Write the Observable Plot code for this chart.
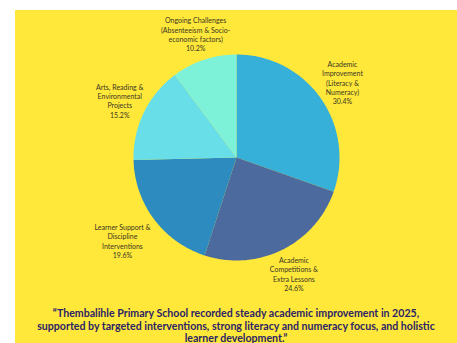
<!DOCTYPE html>
<html>
<head>
<meta charset="utf-8">
<script src="https://cdn.jsdelivr.net/npm/d3@7"></script>
<script src="https://cdn.jsdelivr.net/npm/@observablehq/plot@0.6"></script>
<style>
  html, body { margin: 0; padding: 0; background: #ffffff; width: 457px; height: 343px; overflow: hidden; }
  #card {
    position: absolute; left: 15px; top: 10px; width: 442px; height: 333px;
    background: #ffe83a; overflow: hidden;
  }
  #chart svg { display: block; }
  #caption {
    margin: 0; text-align: center; font-family: Lato, "Open Sans", sans-serif;
    font-weight: 700; font-size: 10.6px; line-height: 12.5px; color: #2c2466;
    white-space: nowrap;
  }
</style>
</head>
<body>
<div id="card">
  <div id="chart"></div>
  <p id="caption"></p>
</div>
<script>
// Programme focus areas, clockwise from 12 o'clock
const categories = [
  "Academic\nImprovement\n(Literacy &\nNumeracy)",
  "Academic\nCompetitions &\nExtra Lessons",
  "Learner Support &\nDiscipline\nInterventions",
  "Arts, Reading &\nEnvironmental\nProjects",
  "Ongoing Challenges\n(Absenteeism & Socio-\neconomic factors)"
];
const shares = [30.4, 24.6, 19.6, 15.2, 10.2];
const sliceColors = ["#36b0d8", "#4c6a9e", "#2d8bc0", "#68dfe8", "#7ef2d8"];
const captionLines = [
  "\u201cThembalihle Primary School recorded steady academic improvement in 2025,",
  "supported by targeted interventions, strong literacy and numeracy focus, and holistic",
  "learner development.\u201d"
];

// Slice geometry in unit-radius coordinates (y grows downward)
const total = d3.sum(shares);
const slices = [];
let acc = 0;
shares.forEach((v, i) => {
  const a0 = acc / total * 2 * Math.PI;
  acc += v;
  const a1 = acc / total * 2 * Math.PI;
  slices.push({name: categories[i], value: v, a0, a1, mid: (a0 + a1) / 2});
});

const outline = [];
for (const s of slices) {
  outline.push({name: s.name, x: 0, y: 0});
  const steps = Math.max(2, Math.ceil((s.a1 - s.a0) / (Math.PI / 180)));
  for (let k = 0; k <= steps; ++k) {
    const a = s.a0 + (s.a1 - s.a0) * k / steps;
    outline.push({name: s.name, x: Math.sin(a), y: -Math.cos(a)});
  }
}

const labelRadius = 1.26;
const labels = slices.map(s => ({
  name: s.name,
  text: `${s.name}\n${s.value.toFixed(1)}%`,
  x: labelRadius * Math.sin(s.mid),
  y: -labelRadius * Math.cos(s.mid)
}));

const labelStyle = {
  x: "x", y: "y", text: "text",
  fontSize: 7, lineHeight: 1.34, fill: "#3a3624",
  fontFamily: "Lato, 'Open Sans', sans-serif"
};
// the widest lower-left label sits a little further out
const wide = categories[2];

const plot = Plot.plot({
  width: 442,
  height: 297,
  margin: 0,
  style: {background: "transparent"},
  x: {domain: [-1, 1], range: [118, 324], axis: null},
  y: {domain: [-1, 1], range: [44, 250], axis: null},
  color: {domain: categories, range: sliceColors},
  marks: [
    Plot.line(outline, {x: "x", y: "y", z: "name", fill: "name", stroke: "none", curve: "linear-closed"}),
    Plot.text(labels.filter(d => d.name !== wide), labelStyle),
    Plot.text(labels.filter(d => d.name === wide), {...labelStyle, dx: -10, dy: 6})
  ]
});
document.getElementById("chart").appendChild(plot);

const cap = document.getElementById("caption");
captionLines.forEach((line, i) => {
  if (i) cap.appendChild(document.createElement("br"));
  cap.appendChild(document.createTextNode(line));
});
</script>
</body>
</html>
